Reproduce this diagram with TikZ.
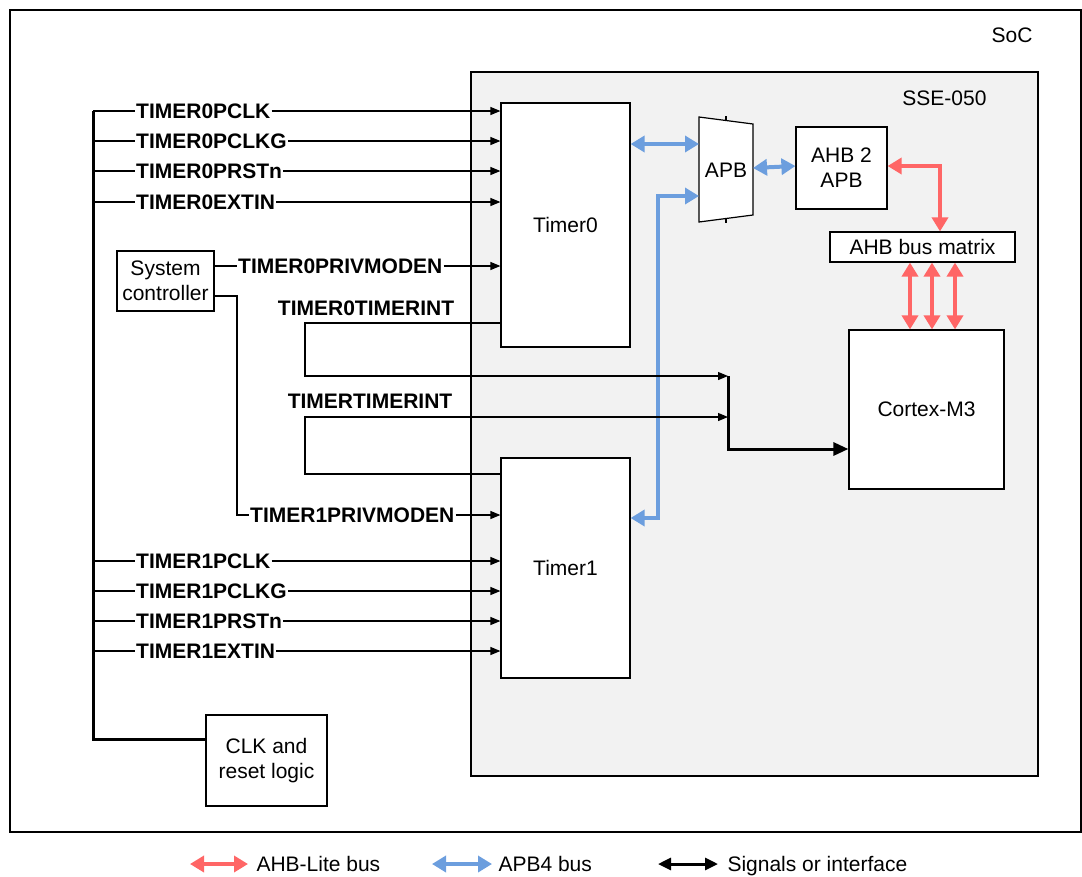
\documentclass[tikz,border=0pt]{standalone}
\usepackage{fontspec}
\setmainfont{Liberation Sans}
\usetikzlibrary{arrows.meta,positioning}

\definecolor{ahbred}{RGB}{255,102,102}
\definecolor{apbblue}{RGB}{108,158,222}
\definecolor{ssegray}{RGB}{242,242,242}

\tikzset{
  basic/.style     = {font=\fontsize{21}{25}\selectfont, align=center},
  block/.style     = {basic, draw, line width=1.2pt, fill=white, inner sep=0pt},
  sig label/.style = {font=\fontsize{21}{25}\selectfont\bfseries, inner sep=1pt, fill=white},
  wire/.style      = {line width=1.2pt},
  bus wire/.style  = {line width=3pt},
  sigline/.style   = {wire, -{Triangle[length=10pt,width=8pt]}},
  ahb/.style       = {ahbred, line width=4pt,
                      {Triangle[length=14pt,width=16pt]}-{Triangle[length=14pt,width=16pt]}},
  apb/.style       = {apbblue, line width=4pt,
                      {Triangle[length=14pt,width=16pt]}-{Triangle[length=14pt,width=16pt]}},
  apb in/.style    = {apbblue, line width=4pt, -{Triangle[length=14pt,width=16pt]}}
}

\begin{document}
\begin{tikzpicture}[x=1pt,y=-1pt]
\useasboundingbox (0,0) rectangle (1082,876);

% SoC frame and the subsystem
\draw[wire] (10,10) rectangle (1081,832);
\node[basic] (soc) at (1012,35) {SoC};
\node[draw, line width=1.2pt, fill=ssegray, minimum width=567pt, minimum height=704pt] (sse) at (754.5,424) {};
\node[basic, anchor=east] (ssename) at (990,98) {SSE-050};

% blocks
\node[block, minimum width=129pt, minimum height=244pt] (timer0) at (565.5,225) {Timer0};
\node[block, minimum width=129pt, minimum height=220pt] (timer1) at (565.5,568) {Timer1};
\node[block, minimum width=91pt, minimum height=82pt] (ahb2apb) at (841.5,168) {AHB 2\\APB};
\node[block, minimum width=185pt, minimum height=30pt] (matrix) at (922.5,247) {AHB bus matrix};
\node[block, minimum width=155pt, minimum height=159pt] (cortex) at (926.5,409.5) {Cortex-M3};
\node[block, minimum width=97pt, minimum height=60pt] (sysctrl) at (165.5,281) {System\\controller};
\node[block, minimum width=121pt, minimum height=91pt] (clk) at (266.5,760.5) {CLK and\\reset logic};

% APB mux
\draw[wire, fill=white] (699,117) -- (753,124) -- (753,215) -- (699,222) -- cycle;
\draw[wire] (726,116) -- (726,120.5) (726,218.5) -- (726,223);
\node[basic] (apb) at (726,170) {APB};
\coordinate (apbW) at (699,170);
\coordinate (apbE) at (753,170);

% APB4 bus
\draw[apb] ([yshift=81pt]timer0.east) -- ([yshift=26pt]apbW);
\draw[apb] ([yshift=2pt]apbE) -- ([yshift=2pt]ahb2apb.west);
\coordinate (t1bus) at (658,518);
\draw[apb in] ([yshift=-26pt]apbW -| t1bus) -- (t1bus) -- (timer1.east |- t1bus);
\draw[apb in] (t1bus) |- ([yshift=-26pt]apbW);

% AHB-Lite bus
\draw[ahb] ([yshift=2pt]ahb2apb.east) -| ([xshift=17.5pt]matrix.north);
\foreach \dx in {-12.5,9.5,32.5}
  \draw[ahb] ([xshift=\dx pt]matrix.south) -- ([xshift=\dx pt]matrix.south |- cortex.north);

% clock and reset lines
\coordinate (bustop) at (93,111);
\coordinate (busbot) at (93,739);
\draw[bus wire] (bustop) -- (busbot) -- (clk.west |- busbot);

\foreach \sig/\y in {PCLK/111,PCLKG/141,PRSTn/171,EXTIN/202} {
  \node[sig label, anchor=west] (t0\sig) at (135,\y) {TIMER0\sig};
  \draw[wire] (bustop |- t0\sig) -- (t0\sig);
  \draw[sigline] (t0\sig) -- (timer0.west |- t0\sig);
}
\foreach \sig/\y in {PCLK/561,PCLKG/591,PRSTn/621,EXTIN/651} {
  \node[sig label, anchor=west] (t1\sig) at (135,\y) {TIMER1\sig};
  \draw[wire] (bustop |- t1\sig) -- (t1\sig);
  \draw[sigline] (t1\sig) -- (timer1.west |- t1\sig);
}

% privilege mode from the system controller
\node[sig label, anchor=west] (pm0) at (237,266) {TIMER0PRIVMODEN};
\draw[wire] (sysctrl.east |- pm0) -- (pm0);
\draw[sigline] (pm0) -- (timer0.west |- pm0);
\node[sig label, anchor=west] (pm1) at (249,515) {TIMER1PRIVMODEN};
\coordinate (pmturn) at (237,296);
\draw[wire] (sysctrl.east |- pmturn) -- (pmturn) |- (pm1);
\draw[sigline] (pm1) -- (timer1.west |- pm1);

% timer interrupts to the processor
\node[sig label, fill=none] (int0) at (366,308) {TIMER0TIMERINT};
\node[sig label, fill=none] (int1) at (370,401) {TIMERTIMERINT};
\coordinate (int0a) at (305,323);
\coordinate (int1a) at (305,474);
\coordinate (merge0) at (728,376);
\coordinate (merge1) at (728,417);
\coordinate (mergebot) at (728,449);
\draw[sigline] (timer0.west |- int0a) -- (int0a) |- (merge0);
\draw[sigline] (timer1.west |- int1a) -- (int1a) |- (merge1);
\draw[bus wire, -{Triangle[length=15pt,width=13pt]}] (merge0) -- (mergebot) -- (cortex.west |- mergebot);

% legend
\node[basic, anchor=base west] (lgahb) at (253,871) {AHB-Lite bus};
\node[basic, anchor=base west] (lgapb) at (495,871) {APB4 bus};
\node[basic, anchor=base west] (lgsig) at (724,871) {Signals or interface};
\coordinate (lgy) at (0,864);
\draw[ahb] ([xshift=-63pt]lgahb.west |- lgy) -- ([xshift=-5pt]lgahb.west |- lgy);
\draw[apb] ([xshift=-63pt]lgapb.west |- lgy) -- ([xshift=-3pt]lgapb.west |- lgy);
\draw[bus wire, {Triangle[length=13pt,width=12pt]}-{Triangle[length=13pt,width=12pt]}]
  ([xshift=-66pt]lgsig.west |- lgy) -- ([xshift=-6pt]lgsig.west |- lgy);

\end{tikzpicture}
\end{document}
